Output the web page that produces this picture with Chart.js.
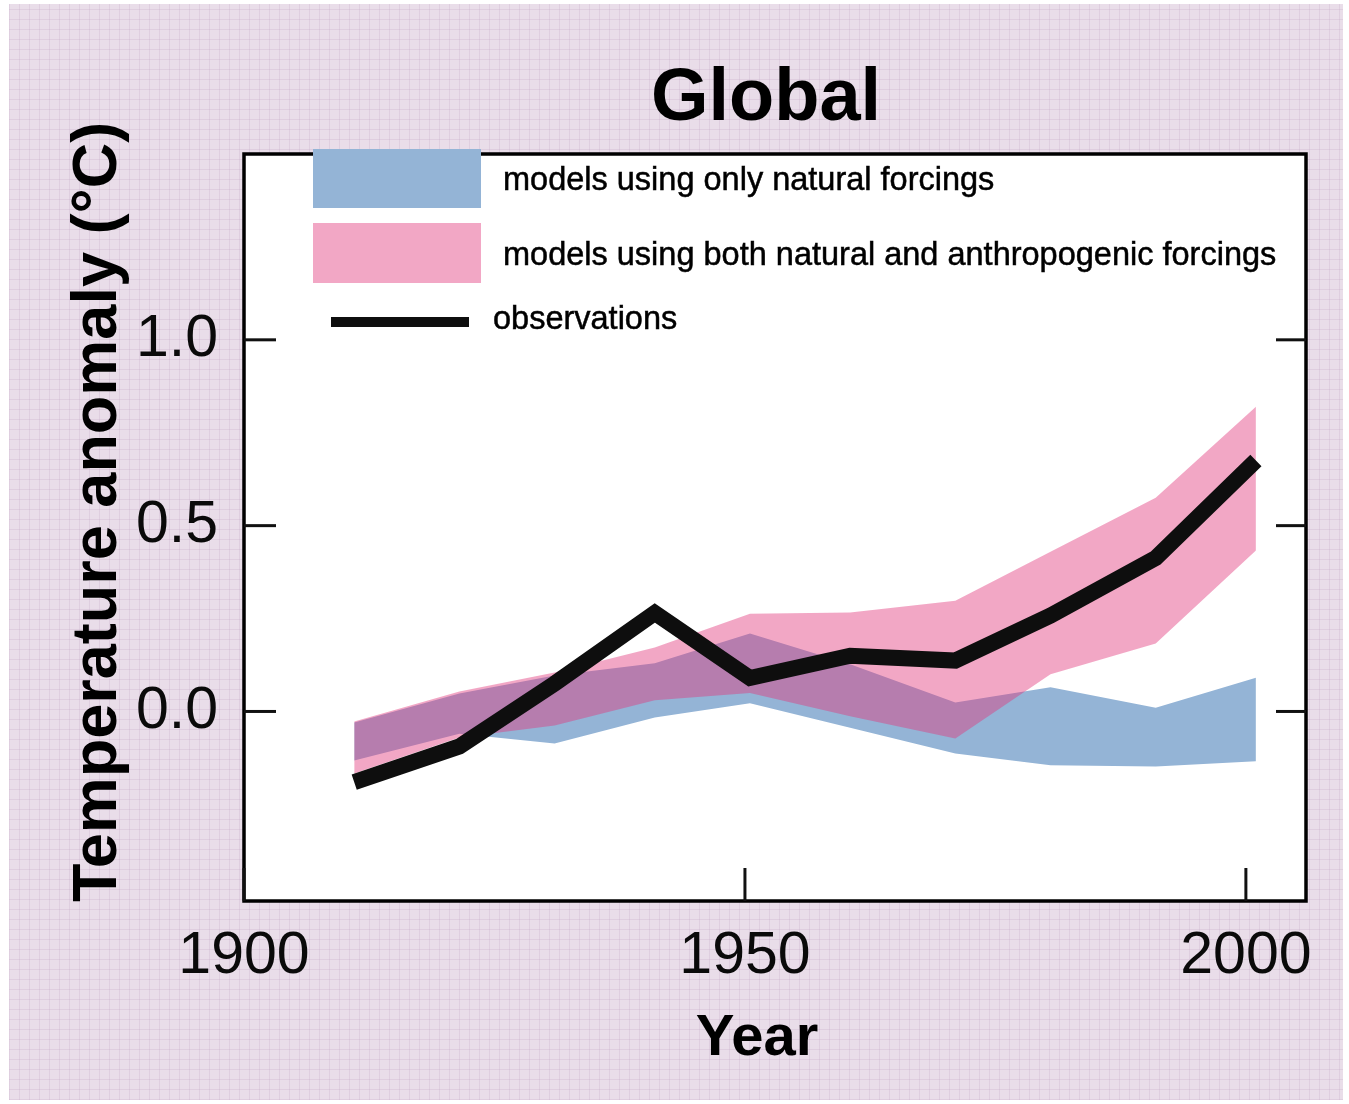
<!DOCTYPE html>
<html>
<head>
<meta charset="utf-8">
<title>Global temperature anomaly</title>
<script src="https://cdn.jsdelivr.net/npm/chart.js@4.4.1/dist/chart.umd.min.js"></script>
<style>
  html, body { margin: 0; padding: 0; background: #ffffff; }
  #wrap { position: relative; width: 1349px; height: 1104px; overflow: hidden; }
  #paper {
    position: absolute; left: 9px; top: 4px; width: 1334px; height: 1096px;
    background-color: #e9dde9;
    background-image:
      repeating-linear-gradient(0deg, rgba(196, 168, 198, 0.28) 0 1px, transparent 1px 10px),
      repeating-linear-gradient(90deg, rgba(196, 168, 198, 0.28) 0 1px, transparent 1px 10px);
  }
  canvas { position: absolute; left: 0; top: 0; }
</style>
</head>
<body>
<div id="wrap">
  <div id="paper"></div>
  <canvas id="chart" width="1349" height="1104"></canvas>
</div>
<script>
// Decadal means, °C anomaly
const years = [1911, 1921.5, 1931, 1941, 1950.5, 1960.5, 1971, 1980.5, 1991, 2001];
const observations = [-0.19, -0.094, 0.075, 0.265, 0.09, 0.15, 0.137, 0.258, 0.413, 0.675];
const naturalHigh = [-0.03, 0.048, 0.097, 0.13, 0.21, 0.127, 0.024, 0.065, 0.01, 0.091];
const naturalLow = [-0.132, -0.06, -0.086, -0.016, 0.022, -0.044, -0.113, -0.145, -0.148, -0.134];
const combinedHigh = [-0.027, 0.054, 0.105, 0.172, 0.263, 0.266, 0.298, 0.43, 0.575, 0.82];
const combinedLow = [-0.167, -0.07, -0.038, 0.03, 0.05, -0.013, -0.073, 0.1, 0.183, 0.433];

const xTicks = [1900, 1950, 2000];
const yTicks = [0, 0.5, 1.0];

const chartTitle = 'Global';
const xTitle = 'Year';
const yTitle = 'Temperature anomaly (°C)';
const legendLabels = [
  'models using only natural forcings',
  'models using both natural and anthropogenic forcings',
  'observations'
];

const FONT = "'Liberation Sans', Arial, Helvetica, sans-serif";
const BLUE = '#94b4d6';
const PINK_SWATCH = '#f2a7c5';
const PINK_FILL = 'rgba(225, 55, 123, 0.44)';
const INK = '#0e0e0e';

const pts = arr => arr.map((v, i) => ({ x: years[i], y: v }));

// white plot panel, frame, inward ticks, legend and titles
const decorations = {
  id: 'decorations',
  beforeDraw(chart) {
    const { ctx, chartArea: a } = chart;
    ctx.save();
    ctx.fillStyle = '#ffffff';
    ctx.fillRect(a.left, a.top, a.right - a.left, a.bottom - a.top);
    ctx.restore();
  },
  afterDatasetsDraw(chart) {
    const { ctx, chartArea: a, scales: { x, y } } = chart;
    const seg = (x1, y1, x2, y2) => { ctx.beginPath(); ctx.moveTo(x1, y1); ctx.lineTo(x2, y2); ctx.stroke(); };
    ctx.save();
    ctx.strokeStyle = '#000000';
    ctx.lineWidth = 3.5;
    ctx.strokeRect(a.left, a.top, a.right - a.left, a.bottom - a.top);

    ctx.strokeStyle = '#111111';
    ctx.lineWidth = 3;
    yTicks.forEach(v => {
      const py = y.getPixelForValue(v);
      seg(a.left, py, a.left + 32, py);
      seg(a.right - 30, py, a.right, py);
    });
    xTicks.forEach(v => {
      const px = x.getPixelForValue(v);
      seg(px, a.bottom, px, a.bottom - 33);
    });

    // legend
    ctx.fillStyle = BLUE;
    ctx.fillRect(313, 149, 168, 59);
    ctx.fillStyle = PINK_SWATCH;
    ctx.fillRect(313, 223, 168, 60);
    ctx.strokeStyle = INK;
    ctx.lineWidth = 10;
    seg(331, 322, 469, 322);

    ctx.fillStyle = '#000000';
    ctx.strokeStyle = '#000000';
    ctx.lineWidth = 0.5;
    ctx.font = '32.5px ' + FONT;
    ctx.textAlign = 'left';
    ctx.textBaseline = 'alphabetic';
    [[legendLabels[0], 503, 190], [legendLabels[1], 503, 265], [legendLabels[2], 493, 329]].forEach(([t, tx, ty]) => {
      ctx.fillText(t, tx, ty);
      ctx.strokeText(t, tx, ty);
    });
    ctx.restore();
  },
  afterDraw(chart) {
    const { ctx } = chart;
    ctx.save();
    ctx.fillStyle = '#000000';
    ctx.textAlign = 'center';
    ctx.textBaseline = 'alphabetic';
    ctx.font = 'bold 74px ' + FONT;
    ctx.fillText(chartTitle, 766, 120);
    ctx.font = 'bold 58px ' + FONT;
    ctx.fillText(xTitle, 757, 1055);
    ctx.translate(116, 512);
    ctx.rotate(-Math.PI / 2);
    ctx.font = 'bold 63px ' + FONT;
    ctx.fillText(yTitle, 0, 0);
    ctx.restore();
  }
};

const bandStyle = { borderColor: 'rgba(0,0,0,0)', borderWidth: 0, pointRadius: 0, pointHoverRadius: 0, tension: 0 };

new Chart(document.getElementById('chart'), {
  type: 'line',
  data: {
    datasets: [
      { label: legendLabels[2], data: pts(observations), borderColor: INK, borderWidth: 16,
        borderJoinStyle: 'miter', borderCapStyle: 'butt', pointRadius: 0, fill: false, tension: 0 },
      { label: legendLabels[1], data: pts(combinedHigh), fill: '+1', backgroundColor: PINK_FILL, ...bandStyle },
      { label: legendLabels[1] + ' (low)', data: pts(combinedLow), fill: false, ...bandStyle },
      { label: legendLabels[0], data: pts(naturalHigh), fill: '+1', backgroundColor: BLUE, ...bandStyle },
      { label: legendLabels[0] + ' (low)', data: pts(naturalLow), fill: false, ...bandStyle }
    ]
  },
  options: {
    responsive: false,
    animation: false,
    layout: { padding: { left: 0, top: 154, right: 43, bottom: 0 } },
    plugins: { legend: { display: false }, tooltip: { enabled: false }, title: { display: false } },
    scales: {
      x: {
        type: 'linear', min: 1900, max: 2006,
        afterBuildTicks: s => { s.ticks = xTicks.map(v => ({ value: v })); },
        afterFit: s => { s.height = 203; },
        grid: { display: false, drawTicks: false },
        border: { display: false },
        ticks: { padding: 26, color: '#0a0a0a', maxRotation: 0, autoSkip: false,
                 font: { family: FONT, size: 59, lineHeight: 1 }, callback: v => String(v) }
      },
      y: {
        type: 'linear', min: -0.51, max: 1.5,
        afterBuildTicks: s => { s.ticks = yTicks.map(v => ({ value: v })); },
        afterFit: s => { s.width = 244; },
        grid: { display: false, drawTicks: false },
        border: { display: false },
        ticks: { padding: 26, color: '#0a0a0a', autoSkip: false,
                 font: { family: FONT, size: 59, lineHeight: 1 }, callback: v => Number(v).toFixed(1) }
      }
    }
  },
  plugins: [decorations]
});
</script>
</body>
</html>
